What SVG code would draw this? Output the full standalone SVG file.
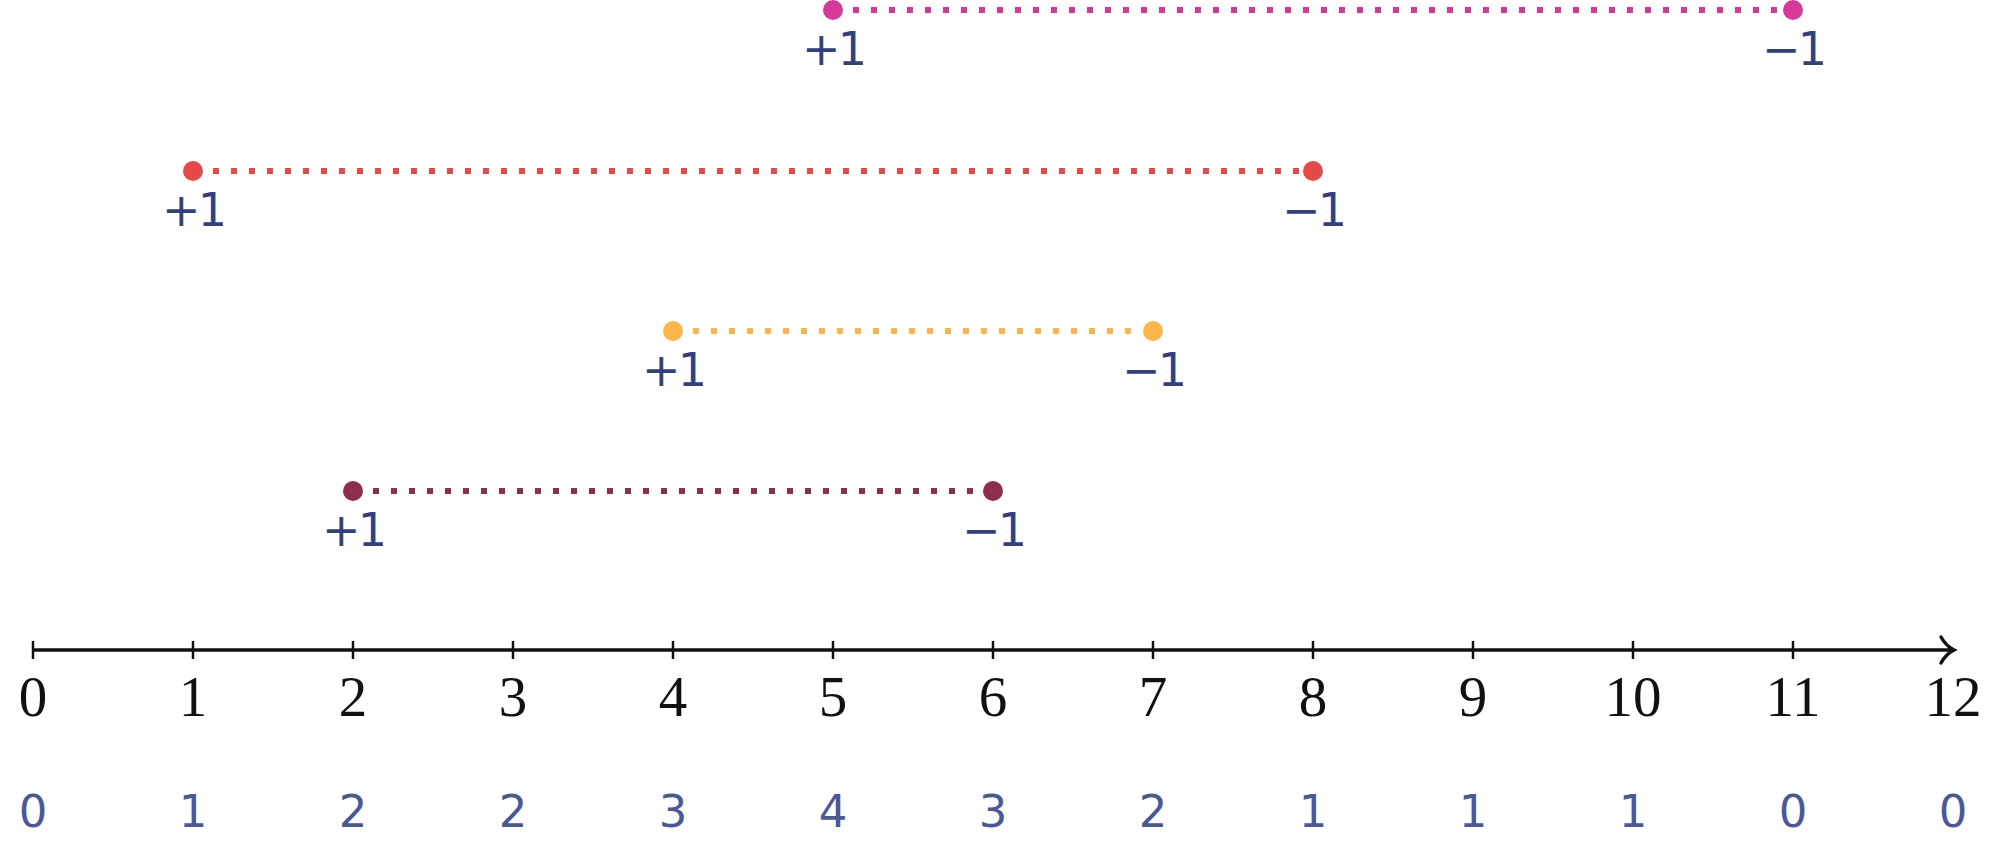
<svg xmlns="http://www.w3.org/2000/svg" width="2000" height="844" viewBox="0 0 2000 844">
<style>
.seg{stroke-width:6;stroke-dasharray:6 12;fill:none}
.pm{font-family:"DejaVu Sans",sans-serif;font-size:46px;letter-spacing:-3px;fill:#34407c;text-anchor:middle}
.ax{font-family:"Liberation Serif",serif;font-size:57px;fill:#111;text-anchor:middle}
.ct{font-family:"DejaVu Sans",sans-serif;font-size:45px;fill:#4b5895;text-anchor:middle}
.tick{stroke:#111;stroke-width:2.5}
</style>
<rect width="2000" height="844" fill="#fff"/>
<g id="connectors">
<line class="seg" x1="853" y1="10" x2="1783" y2="10" stroke="#d6389a"/>
<line class="seg" x1="213" y1="171" x2="1303" y2="171" stroke="#e44a4a"/>
<line class="seg" x1="693" y1="331" x2="1143" y2="331" stroke="#fdb54b"/>
<line class="seg" x1="373" y1="491" x2="983" y2="491" stroke="#8e2d4f"/>
</g>
<g id="interval-pink">
<circle cx="833" cy="10" r="10" fill="#d6389a"/>
<circle cx="1793" cy="10" r="10" fill="#d6389a"/>
<text class="pm" x="833" y="65">+1</text>
<text class="pm" x="1793" y="65">−1</text>
</g>
<g id="interval-red">
<circle cx="193" cy="171" r="10" fill="#e44a4a"/>
<circle cx="1313" cy="171" r="10" fill="#e44a4a"/>
<text class="pm" x="193" y="226">+1</text>
<text class="pm" x="1313" y="226">−1</text>
</g>
<g id="interval-yellow">
<circle cx="673" cy="331" r="10" fill="#fdb54b"/>
<circle cx="1153" cy="331" r="10" fill="#fdb54b"/>
<text class="pm" x="673" y="386">+1</text>
<text class="pm" x="1153" y="386">−1</text>
</g>
<g id="interval-maroon">
<circle cx="353" cy="491" r="10" fill="#8e2d4f"/>
<circle cx="993" cy="491" r="10" fill="#8e2d4f"/>
<text class="pm" x="353" y="546">+1</text>
<text class="pm" x="993" y="546">−1</text>
</g>
<g id="axis">
<line x1="33" y1="650" x2="1952" y2="650" stroke="#111" stroke-width="3.5"/>
<path d="M1941 637 Q1946 646 1954 650 Q1946 654 1941 663" fill="none" stroke="#111" stroke-width="3.5" stroke-linecap="round"/>
<line class="tick" x1="33" y1="641" x2="33" y2="659"/>
<line class="tick" x1="193" y1="641" x2="193" y2="659"/>
<line class="tick" x1="353" y1="641" x2="353" y2="659"/>
<line class="tick" x1="513" y1="641" x2="513" y2="659"/>
<line class="tick" x1="673" y1="641" x2="673" y2="659"/>
<line class="tick" x1="833" y1="641" x2="833" y2="659"/>
<line class="tick" x1="993" y1="641" x2="993" y2="659"/>
<line class="tick" x1="1153" y1="641" x2="1153" y2="659"/>
<line class="tick" x1="1313" y1="641" x2="1313" y2="659"/>
<line class="tick" x1="1473" y1="641" x2="1473" y2="659"/>
<line class="tick" x1="1633" y1="641" x2="1633" y2="659"/>
<line class="tick" x1="1793" y1="641" x2="1793" y2="659"/>
<text class="ax" x="33" y="716">0</text>
<text class="ax" x="193" y="716">1</text>
<text class="ax" x="353" y="716">2</text>
<text class="ax" x="513" y="716">3</text>
<text class="ax" x="673" y="716">4</text>
<text class="ax" x="833" y="716">5</text>
<text class="ax" x="993" y="716">6</text>
<text class="ax" x="1153" y="716">7</text>
<text class="ax" x="1313" y="716">8</text>
<text class="ax" x="1473" y="716">9</text>
<text class="ax" x="1633" y="716">10</text>
<text class="ax" x="1793" y="716">11</text>
<text class="ax" x="1953" y="716">12</text>
</g>
<g id="counts">
<text class="ct" x="33" y="827">0</text>
<text class="ct" x="193" y="827">1</text>
<text class="ct" x="353" y="827">2</text>
<text class="ct" x="513" y="827">2</text>
<text class="ct" x="673" y="827">3</text>
<text class="ct" x="833" y="827">4</text>
<text class="ct" x="993" y="827">3</text>
<text class="ct" x="1153" y="827">2</text>
<text class="ct" x="1313" y="827">1</text>
<text class="ct" x="1473" y="827">1</text>
<text class="ct" x="1633" y="827">1</text>
<text class="ct" x="1793" y="827">0</text>
<text class="ct" x="1953" y="827">0</text>
</g>
</svg>
